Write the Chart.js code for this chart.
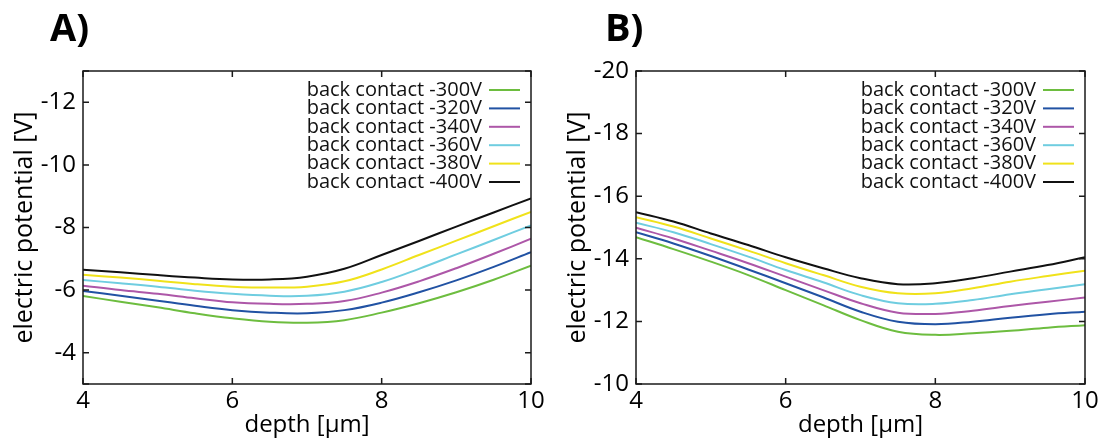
<!DOCTYPE html>
<html>
<head>
<meta charset="utf-8">
<script src="https://cdn.jsdelivr.net/npm/chart.js@4.4.1/dist/chart.umd.min.js"></script>
<style>
  html, body { margin: 0; padding: 0; background: #fff; }
  #wrap { position: relative; width: 1107px; height: 441px; overflow: hidden; }
  .panel { position: absolute; top: 0; height: 441px; }
</style>
</head>
<body>
<div id="wrap">
  <div class="panel" style="left:0;width:553px"><canvas id="chartA" width="553" height="441"></canvas></div>
  <div class="panel" style="left:553px;width:554px"><canvas id="chartB" width="554" height="441"></canvas></div>
</div>
<script>
// depth positions [µm]
const depth = [4, 4.5, 5, 5.5, 6, 6.5, 7, 7.5, 8, 8.5, 9, 9.5, 10];

// series labels and colours
const seriesLabels = [
  'back contact -300V', 'back contact -320V', 'back contact -340V',
  'back contact -360V', 'back contact -380V', 'back contact -400V'
];
const seriesColors = ['#6dbd3f', '#2152a3', '#ad57a8', '#6fcde0', '#f0e21a', '#111111'];

// panel A: electric potential [V]
const a300 = [-5.81, -5.63, -5.45, -5.26, -5.10, -4.99, -4.96, -5.04, -5.28, -5.58, -5.93, -6.33, -6.78];
const a320 = [-5.97, -5.82, -5.66, -5.50, -5.36, -5.28, -5.26, -5.36, -5.60, -5.93, -6.31, -6.74, -7.21];
const a340 = [-6.14, -6.00, -5.88, -5.74, -5.61, -5.56, -5.56, -5.65, -5.92, -6.28, -6.70, -7.16, -7.64];
const a360 = [-6.32, -6.22, -6.11, -5.98, -5.88, -5.82, -5.82, -5.95, -6.26, -6.68, -7.14, -7.60, -8.07];
const a380 = [-6.49, -6.40, -6.30, -6.19, -6.11, -6.08, -6.11, -6.28, -6.66, -7.12, -7.58, -8.04, -8.50];
const a400 = [-6.65, -6.57, -6.48, -6.40, -6.34, -6.34, -6.43, -6.68, -7.12, -7.57, -8.03, -8.48, -8.93];

// panel B: electric potential [V]
const b300 = [-14.69, -14.31, -13.91, -13.48, -13.00, -12.52, -12.04, -11.67, -11.57, -11.62, -11.70, -11.80, -11.88];
const b320 = [-14.85, -14.49, -14.09, -13.66, -13.22, -12.77, -12.31, -11.99, -11.91, -11.99, -12.12, -12.23, -12.31];
const b340 = [-14.99, -14.65, -14.26, -13.86, -13.43, -13.00, -12.58, -12.28, -12.24, -12.34, -12.49, -12.63, -12.76];
const b360 = [-15.15, -14.85, -14.47, -14.07, -13.64, -13.25, -12.84, -12.58, -12.56, -12.68, -12.87, -13.03, -13.19];
const b380 = [-15.33, -15.03, -14.65, -14.26, -13.86, -13.48, -13.11, -12.90, -12.90, -13.06, -13.27, -13.45, -13.62];
const b400 = [-15.49, -15.19, -14.81, -14.44, -14.05, -13.70, -13.38, -13.19, -13.22, -13.38, -13.59, -13.80, -14.05];

// tick labels
const xTicks = [4, 6, 8, 10];
const yTicksA = [-13, -12, -10, -8, -6, -4, -3];
const yTicksALabeled = [-12, -10, -8, -6, -4];
const yTicksB = [-20, -18, -16, -14, -12, -10];

const FONT = '"Open Sans", "Noto Sans", sans-serif';

// box frame with inward tick marks on all four sides
const framePlugin = {
  id: 'frameTicks',
  afterDatasetsDraw(chart) {
    const { ctx, chartArea: a, scales: { x, y } } = chart;
    const L = 6;
    ctx.save();
    ctx.strokeStyle = '#1a1a1a';
    ctx.lineWidth = 1.5;
    ctx.beginPath();
    x.ticks.forEach(t => {
      const px = x.getPixelForValue(t.value);
      ctx.moveTo(px, a.bottom); ctx.lineTo(px, a.bottom - L);
      ctx.moveTo(px, a.top); ctx.lineTo(px, a.top + L);
    });
    y.ticks.forEach(t => {
      const py = y.getPixelForValue(t.value);
      ctx.moveTo(a.left, py); ctx.lineTo(a.left + L, py);
      ctx.moveTo(a.right, py); ctx.lineTo(a.right - L, py);
    });
    ctx.stroke();
    ctx.strokeRect(a.left, a.top, a.right - a.left, a.bottom - a.top);
    ctx.restore();
  }
};

// key: right-aligned label followed by a short line sample
const keyPlugin = {
  id: 'sideKey',
  afterDatasetsDraw(chart) {
    const { ctx, chartArea: a } = chart;
    ctx.save();
    ctx.font = '20px ' + FONT;
    ctx.textAlign = 'right';
    ctx.textBaseline = 'middle';
    chart.data.datasets.forEach((ds, i) => {
      const cy = a.top + 19 + i * 18.4;
      ctx.fillStyle = '#111';
      ctx.fillText(ds.label, a.right - 49, cy);
      ctx.strokeStyle = ds.borderColor;
      ctx.lineWidth = 2;
      ctx.beginPath();
      ctx.moveTo(a.right - 42, cy);
      ctx.lineTo(a.right - 11, cy);
      ctx.stroke();
    });
    ctx.restore();
  }
};

// bold panel letter in the top-left corner
const panelLetterPlugin = {
  id: 'panelLetter',
  afterDraw(chart, args, opts) {
    const { ctx } = chart;
    ctx.save();
    ctx.font = 'bold 38px ' + FONT;
    ctx.fillStyle = '#000';
    ctx.textAlign = 'left';
    ctx.textBaseline = 'alphabetic';
    ctx.fillText(opts.text, opts.x, 41);
    ctx.restore();
  }
};

function makeDatasets(series) {
  return series.map((vals, i) => ({
    label: seriesLabels[i],
    data: depth.map((d, k) => ({ x: d, y: vals[k] })),
    borderColor: seriesColors[i],
    backgroundColor: seriesColors[i],
    borderWidth: 2,
    pointRadius: 0,
    fill: false,
    tension: 0.4
  }));
}

function makeChart(canvasId, series, yMin, yMax, yTicks, letter, letterX) {
  return new Chart(document.getElementById(canvasId), {
    type: 'line',
    data: { datasets: makeDatasets(series) },
    plugins: [framePlugin, keyPlugin, panelLetterPlugin],
    options: {
      responsive: false,
      animation: false,
      layout: { padding: { left: 0, right: 22, top: 71, bottom: 0 } },
      plugins: {
        legend: { display: false },
        tooltip: { enabled: false },
        panelLetter: { text: letter, x: letterX }
      },
      scales: {
        x: {
          type: 'linear',
          min: 4, max: 10,
          border: { display: false },
          grid: { display: false, drawTicks: false },
          afterBuildTicks: s => { s.ticks = xTicks.map(v => ({ value: v })); },
          afterFit: s => { s.height = 57; },
          ticks: {
            padding: 3,
            color: '#000',
            maxRotation: 0,
            font: { family: FONT, size: 24 },
            callback: v => String(v)
          },
          title: {
            display: true,
            text: 'depth [µm]',
            color: '#000',
            font: { family: FONT, size: 24 },
            padding: { top: 0, bottom: 1 }
          }
        },
        y: {
          type: 'linear',
          reverse: true,
          min: yMin, max: yMax,
          border: { display: false },
          grid: { display: false, drawTicks: false },
          afterBuildTicks: s => { s.ticks = yTicks.map(v => ({ value: v })); },
          afterFit: s => { s.width = 83; },
          ticks: {
            padding: 7,
            color: '#000',
            font: { family: FONT, size: 24 },
            callback: v => (canvasId === 'chartA' && !yTicksALabeled.includes(v)) ? '' : String(v)
          },
          title: {
            display: true,
            text: 'electric potential [V]',
            color: '#000',
            font: { family: FONT, size: 25 },
            padding: { top: 10, bottom: 0 }
          }
        }
      }
    }
  });
}

makeChart('chartA', [a300, a320, a340, a360, a380, a400], -13, -3, yTicksA, 'A)', 50);
makeChart('chartB', [b300, b320, b340, b360, b380, b400], -20, -10, yTicksB, 'B)', 52);
</script>
</body>
</html>
